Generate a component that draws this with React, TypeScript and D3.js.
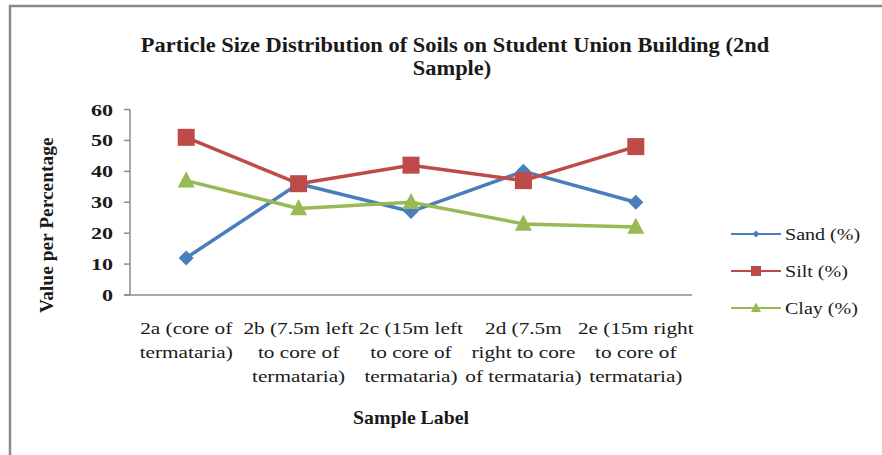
import { useEffect, useRef } from 'react'
import * as d3 from 'd3'

const categories = [
  ['2a (core of', 'termataria)'],
  ['2b (7.5m left', 'to core of', 'termataria)'],
  ['2c (15m left', 'to core of', 'termataria)'],
  ['2d (7.5m', 'right to core', 'of termataria)'],
  ['2e (15m right', 'to core of', 'termataria)'],
]
const sand = [12, 36, 27, 40, 30]
const silt = [51, 36, 42, 37, 48]
const clay = [37, 28, 30, 23, 22]
const yTicks = [0, 10, 20, 30, 40, 50, 60]

const series = [
  { name: 'Sand (%)', values: sand, color: '#4A7EBB', shape: 'diamond' },
  { name: 'Silt (%)', values: silt, color: '#BE4B48', shape: 'square' },
  { name: 'Clay (%)', values: clay, color: '#98B954', shape: 'triangle' },
]

type G = d3.Selection<any, unknown, null, undefined>

export default function App() {
  const svgRef = useRef<SVGSVGElement>(null)

  useEffect(() => {
    if (!svgRef.current) return
    const width = 882
    const height = 455
    const svg = d3.select(svgRef.current)
    svg.selectAll('*').remove()

    const font = 'Liberation Serif, DejaVu Serif, serif'
    const axisColor = '#8c8c8c'

    // text that is a little wider than the font draws it (the source picture is stretched)
    const txt = (parent: G, tf: string, str: string, size: number, sx: number,
      anchor = 'middle', weight = 'normal') => {
      parent.append('g')
        .attr('transform', `${tf} scale(${sx},1)`)
        .append('text')
        .attr('text-anchor', anchor)
        .attr('font-family', font)
        .attr('font-size', size)
        .attr('font-weight', weight)
        .attr('fill', '#1a1a1a')
        .text(str)
    }

    // outer frame
    svg.append('rect')
      .attr('x', 10).attr('y', 6)
      .attr('width', width + 20).attr('height', height + 20)
      .attr('fill', 'white').attr('stroke', '#8a8a8a').attr('stroke-width', 2.5)

    const left = 130
    const right = 692
    const top = 109.5
    const bottom = 295

    const x = d3.scaleBand<number>()
      .domain(d3.range(categories.length))
      .range([left, right])
    const y = d3.scaleLinear().domain([0, 60]).range([bottom, top])
    const cx = (i: number) => (x(i) ?? 0) + x.bandwidth() / 2

    // title
    txt(svg, 'translate(455,52)', 'Particle Size Distribution of Soils on Student Union Building (2nd', 21, 1.07, 'middle', 'bold')
    txt(svg, 'translate(452,75)', 'Sample)', 21, 1.07, 'middle', 'bold')

    // y axis
    svg.append('line')
      .attr('x1', left).attr('x2', left).attr('y1', top).attr('y2', bottom)
      .attr('stroke', axisColor).attr('stroke-width', 1.5)
    yTicks.forEach(t => {
      svg.append('line')
        .attr('x1', left - 6).attr('x2', left)
        .attr('y1', y(t)).attr('y2', y(t))
        .attr('stroke', axisColor).attr('stroke-width', 1.5)
      txt(svg, `translate(113,${y(t) + 6})`, String(t), 17, 1.3, 'end', 'bold')
    })

    // x axis
    svg.append('line')
      .attr('x1', left - 6).attr('x2', right).attr('y1', bottom).attr('y2', bottom)
      .attr('stroke', axisColor).attr('stroke-width', 1.5)

    categories.forEach((lines, i) => {
      lines.forEach((l, k) => {
        txt(svg, `translate(${cx(i)},${334 + k * 24})`, l, 17, 1.25)
      })
    })

    // axis titles
    txt(svg, `translate(53,${(top + bottom) / 2 + 23}) rotate(-90)`, 'Value per Percentage', 18, 1.08, 'middle', 'bold')
    txt(svg, 'translate(411,424)', 'Sample Label', 18, 1.1, 'middle', 'bold')

    const marker = (g: G, shape: string, color: string, px: number, py: number, s: number) => {
      if (shape === 'diamond') {
        g.append('path')
          .attr('d', `M${px},${py - s}L${px + s},${py}L${px},${py + s}L${px - s},${py}Z`)
          .attr('fill', color)
      } else if (shape === 'square') {
        g.append('rect')
          .attr('x', px - s).attr('y', py - s).attr('width', 2 * s).attr('height', 2 * s)
          .attr('fill', color)
      } else {
        g.append('path')
          .attr('d', `M${px},${py - s * 1.1}L${px + s},${py + s * 0.8}L${px - s},${py + s * 0.8}Z`)
          .attr('fill', color)
      }
    }

    const line = d3.line<number>().x((_, i) => cx(i)).y(d => y(d))

    series.forEach(s => {
      const g = svg.append('g')
      g.append('path')
        .attr('d', line(s.values))
        .attr('fill', 'none')
        .attr('stroke', s.color)
        .attr('stroke-width', 3.5)
        .attr('stroke-linejoin', 'round')
      s.values.forEach((v, i) => {
        const size = s.shape === 'diamond' ? 7.5 : 8.5
        marker(g, s.shape, s.color, cx(i), y(v), size)
      })
    })

    // legend
    series.forEach((s, i) => {
      const ly = 234 + i * 37
      const g = svg.append('g')
      g.append('line')
        .attr('x1', 731).attr('x2', 781).attr('y1', ly).attr('y2', ly)
        .attr('stroke', s.color).attr('stroke-width', 2)
      marker(g, s.shape, s.color, 756, ly, s.shape === 'diamond' ? 3.5 : 5)
      txt(g, `translate(785,${ly + 6})`, s.name, 17, 1.18, 'start')
    })
  }, [])

  return (
    <div style={{ width: 882, height: 455 }}>
      <svg ref={svgRef} width={882} height={455} style={{ display: 'block', position: 'absolute', left: 0, top: 0 }} />
    </div>
  )
}
